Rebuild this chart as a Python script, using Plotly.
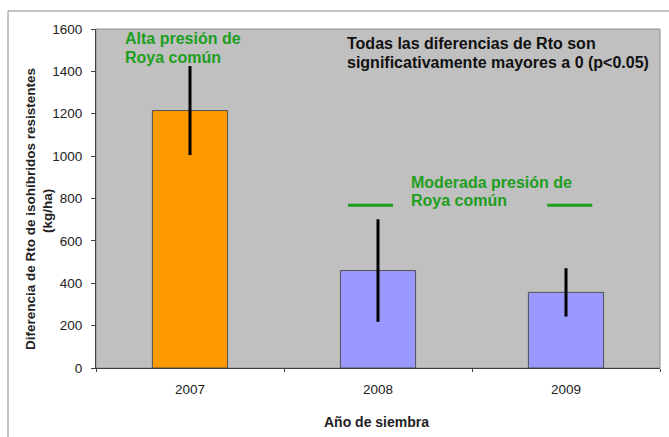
import plotly.graph_objects as go

years = ["2007", "2008", "2009"]
values = [1215, 460, 357]
errors = [210, 242, 114]
bar_colors = ["#FF9900", "#9999FF", "#9999FF"]
y_ticks = [0, 200, 400, 600, 800, 1000, 1200, 1400, 1600]
dash_level = 768

W, H = 669, 437
L, R, T, B = 96, 9, 29, 69
pw, ph = W - L - R, H - T - B

def px2x(px):
    return (px - L) / pw

def py2y(py):
    return 1 - (py - T) / ph

fig = go.Figure()
fig.add_trace(go.Bar(
    x=years, y=values,
    marker=dict(color=bar_colors, line=dict(color="#505050", width=1)),
    width=0.4,
    error_y=dict(type="data", array=errors, visible=True, color="black",
                 thickness=3, width=0),
    showlegend=False,
))

green = "#1E9E1E"
font_main = "Liberation Sans, Arial, sans-serif"
txt = "#222"


def line_ann(text, xpx, ypx, color, size=16, anchor="left", angle=0, bold=True):
    return dict(text=f"<b>{text}</b>" if bold else text, xref="paper", yref="paper",
                x=px2x(xpx), y=py2y(ypx), xanchor=anchor, yanchor="middle",
                showarrow=False, textangle=angle, font=dict(size=size, color=color))


annotations = [
    line_ann("Alta presión de", 123, 38, green),
    line_ann("Roya común", 123, 57, green),
    line_ann("Moderada presión de", 409, 182, green),
    line_ann("Roya común", 409, 200, green),
    line_ann("Todas las diferencias de Rto son", 345, 44, "#111"),
    line_ann("significativamente mayores a 0 (p<0.05)", 345, 63, "#111"),
    line_ann("Año de siembra", 376, 422, txt, size=14, anchor="center"),
    line_ann("Diferencia de Rto de isohíbridos resistentes", 30, 209, txt,
             size=13.5, anchor="center", angle=-90),
    line_ann("(kg/ha)", 47, 211, txt, size=13.5, anchor="center", angle=-90),
]

fig.update_layout(
    width=W, height=H,
    margin=dict(l=L, r=R, t=T, b=B, autoexpand=False),
    paper_bgcolor="white",
    plot_bgcolor="#C0C0C0",
    font=dict(family=font_main, size=13.5, color=txt),
    xaxis=dict(
        type="category",
        automargin=False,
        showline=True, linecolor="#404040", linewidth=1,
        ticks="outside", ticklen=3, tickcolor="#404040",
        tickson="boundaries",
        ticklabelstandoff=9,
        tickfont=dict(size=13.5, color=txt),
        showgrid=False,
    ),
    yaxis=dict(
        automargin=False,
        range=[0, 1600],
        tickvals=y_ticks,
        showline=True, linecolor="#404040", linewidth=1,
        ticks="outside", ticklen=4, tickcolor="#404040",
        ticklabelstandoff=6,
        tickfont=dict(size=13.5, color=txt),
        showgrid=False,
        zeroline=False,
    ),
    shapes=[
        dict(type="rect", xref="paper", yref="paper", x0=0, x1=1, y0=0, y1=1,
             line=dict(color="#909090", width=1), layer="below"),
        dict(type="rect", xref="paper", yref="paper",
             x0=px2x(8), x1=px2x(700), y0=py2y(500), y1=py2y(11),
             line=dict(color="#888888", width=1)),
        dict(type="line", xref="x", yref="y", x0=0.84, x1=1.08,
             y0=dash_level, y1=dash_level, line=dict(color=green, width=3)),
        dict(type="line", xref="x", yref="y", x0=1.90, x1=2.14,
             y0=dash_level, y1=dash_level, line=dict(color=green, width=3)),
    ],
    annotations=annotations,
)

fig.write_html("out.html",
               config={"displayModeBar": False},
               post_script="document.body.style.margin='0';document.body.style.overflow='hidden';")
